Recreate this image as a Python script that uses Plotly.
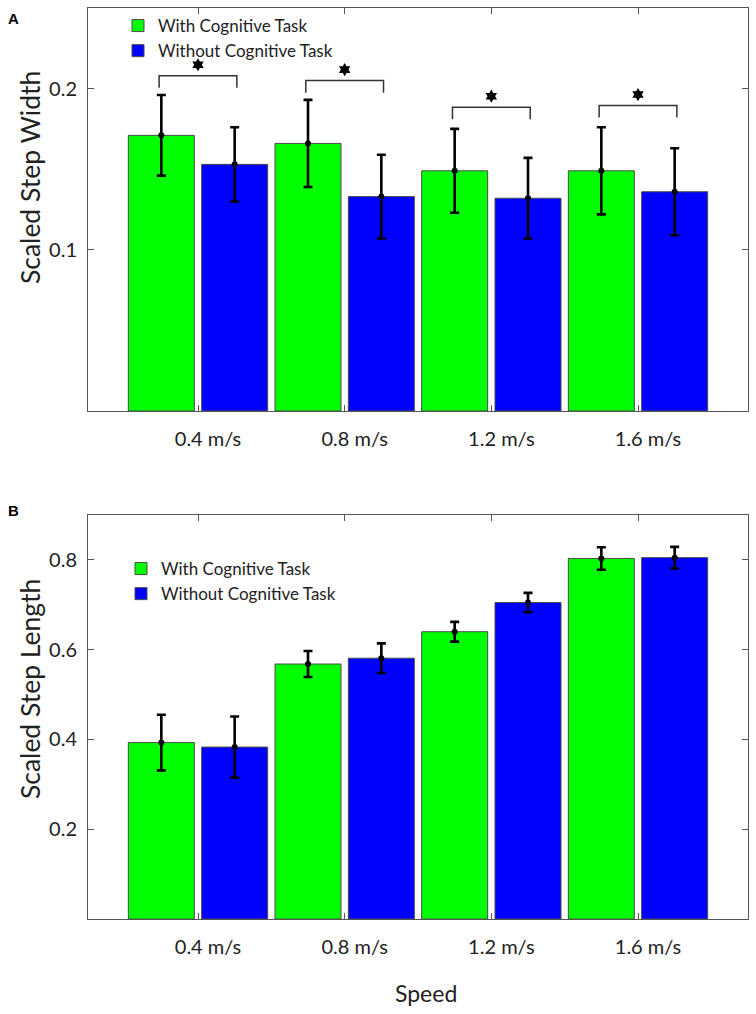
import plotly.graph_objects as go

# ---------------- data ----------------
speeds = ["0.4 m/s", "0.8 m/s", "1.2 m/s", "1.6 m/s"]
xpos = [1, 2, 3, 4]

width_with = [0.171, 0.166, 0.149, 0.149]
width_with_err = [0.025, 0.027, 0.026, 0.027]
width_without = [0.153, 0.133, 0.132, 0.136]
width_without_err = [0.023, 0.026, 0.025, 0.027]

length_with = [0.393, 0.568, 0.640, 0.803]
length_with_err = [0.062, 0.029, 0.022, 0.025]
length_without = [0.383, 0.581, 0.705, 0.805]
length_without_err = [0.068, 0.033, 0.0215, 0.024]

sig_bracket_y = [0.208, 0.205, 0.1885, 0.1895]

width_ticks = [0.1, 0.2]
length_ticks = [0.2, 0.4, 0.6, 0.8]

# ---------------- style ----------------
GREEN = "#00FF00"
BLUE = "#0000FF"
EDGE = "#4a4a4a"
AXC = "#555555"
TXT = "#222222"
FONT = "Lato"
half = 0.25

fig = go.Figure()


def add_panel(xa, ya, with_v, with_e, wo_v, wo_e, legend):
    for vals, errs, col, name, sgn in [
        (with_v, with_e, GREEN, "With Cognitive Task", -1),
        (wo_v, wo_e, BLUE, "Without Cognitive Task", 1),
    ]:
        fig.add_trace(go.Bar(
            x=xpos, y=vals, name=name, xaxis=xa, yaxis=ya, legend=legend,
            marker=dict(color=col, line=dict(color=EDGE, width=1)),
            error_y=dict(type="data", array=errs, color="black", thickness=2.6, width=4.5),
            hoverinfo="skip",
        ))
        fig.add_trace(go.Scatter(
            x=[x + sgn * half for x in xpos], y=vals, mode="markers",
            marker=dict(color="black", size=6), xaxis=xa, yaxis=ya,
            showlegend=False, hoverinfo="skip",
        ))


add_panel("x", "y", width_with, width_with_err, width_without, width_without_err, "legend")
add_panel("x2", "y2", length_with, length_with_err, length_without, length_without_err, "legend2")

# significance brackets (top panel)
bx, by = [], []
leg = 0.0075
arm = 0.265
for x, b in zip(xpos, sig_bracket_y):
    bx += [x - arm, x - arm, x + arm, x + arm, None]
    by += [b - leg, b, b, b - leg, None]
fig.add_trace(go.Scatter(x=bx, y=by, mode="lines", line=dict(color="#333333", width=1.5),
                         xaxis="x", yaxis="y", showlegend=False, hoverinfo="skip"))
fig.add_trace(go.Scatter(x=xpos, y=[b + 0.0068 for b in sig_bracket_y], mode="markers",
                         marker=dict(symbol="hexagram", color="black", size=10),
                         xaxis="x", yaxis="y", showlegend=False, hoverinfo="skip"))

axis_common = dict(showline=True, linecolor=AXC, linewidth=1, mirror="ticks",
                   ticks="inside", ticklen=6, tickwidth=1, tickcolor=AXC,
                   showgrid=False, zeroline=False,
                   tickfont=dict(family=FONT, size=20, color=TXT))

top_dom = [(919 - 411) / 911, 1.0]
bot_dom = [0.0, (919 - 515) / 911]

fig.update_layout(
    width=756, height=1014,
    margin=dict(l=88, r=8, t=8, b=95),
    paper_bgcolor="white", plot_bgcolor="white",
    barmode="group", bargap=0.0, bargroupgap=0.1,
    font=dict(family=FONT, color=TXT),
    xaxis=dict(axis_common, domain=[0, 1], anchor="y", range=[0.25, 4.75],
               tickvals=xpos, ticktext=speeds, ticklabelshift=10, ticklabelstandoff=10),
    yaxis=dict(axis_common, domain=top_dom, anchor="x", range=[0, 0.25],
               tickvals=width_ticks, ticktext=["0.1", "0.2"], ticklabelstandoff=6),
    xaxis2=dict(axis_common, domain=[0, 1], anchor="y2", range=[0.25, 4.75],
                tickvals=xpos, ticktext=speeds, ticklabelshift=10, ticklabelstandoff=10),
    yaxis2=dict(axis_common, domain=bot_dom, anchor="x2", range=[0, 0.9],
                tickvals=length_ticks, ticktext=["0.2", "0.4", "0.6", "0.8"], ticklabelstandoff=6),
    legend=dict(x=(118 - 88) / 660, y=1.0, xanchor="left", yanchor="top",
                bgcolor="rgba(0,0,0,0)", font=dict(family=FONT, size=17, color=TXT),
                tracegroupgap=0, itemclick=False),
    legend2=dict(x=(121 - 88) / 660, y=(919 - 551) / 911, xanchor="left", yanchor="top",
                 bgcolor="rgba(0,0,0,0)", font=dict(family=FONT, size=17, color=TXT),
                 tracegroupgap=0, itemclick=False),
    showlegend=True,
    annotations=[
        dict(text="Scaled Step Width", x=(30 - 88) / 660, y=(919 - 178) / 911,
             xref="paper", yref="paper", textangle=-90, showarrow=False,
             xanchor="center", yanchor="middle", font=dict(family=FONT, size=26.5, color=TXT)),
        dict(text="Scaled Step Length", x=(30 - 88) / 660, y=(919 - 689) / 911,
             xref="paper", yref="paper", textangle=-90, showarrow=False,
             xanchor="center", yanchor="middle", font=dict(family=FONT, size=26.5, color=TXT)),
        dict(text="Speed", x=(425.5 - 88) / 660, y=(919 - 993) / 911,
             xref="paper", yref="paper", showarrow=False,
             xanchor="center", yanchor="middle", font=dict(family=FONT, size=23, color=TXT)),
        dict(text="<b>A</b>", x=(13 - 88) / 660, y=(919 - 18) / 911,
             xref="paper", yref="paper", showarrow=False,
             xanchor="center", yanchor="middle", font=dict(family="Liberation Sans", size=15, color="black")),
        dict(text="<b>B</b>", x=(13 - 88) / 660, y=(919 - 510) / 911,
             xref="paper", yref="paper", showarrow=False,
             xanchor="center", yanchor="middle", font=dict(family="Liberation Sans", size=15, color="black")),
    ],
)

fig.write_html("out.html", config={"displayModeBar": False},
               post_script="document.body.style.margin='0';document.body.style.overflow='hidden';")
